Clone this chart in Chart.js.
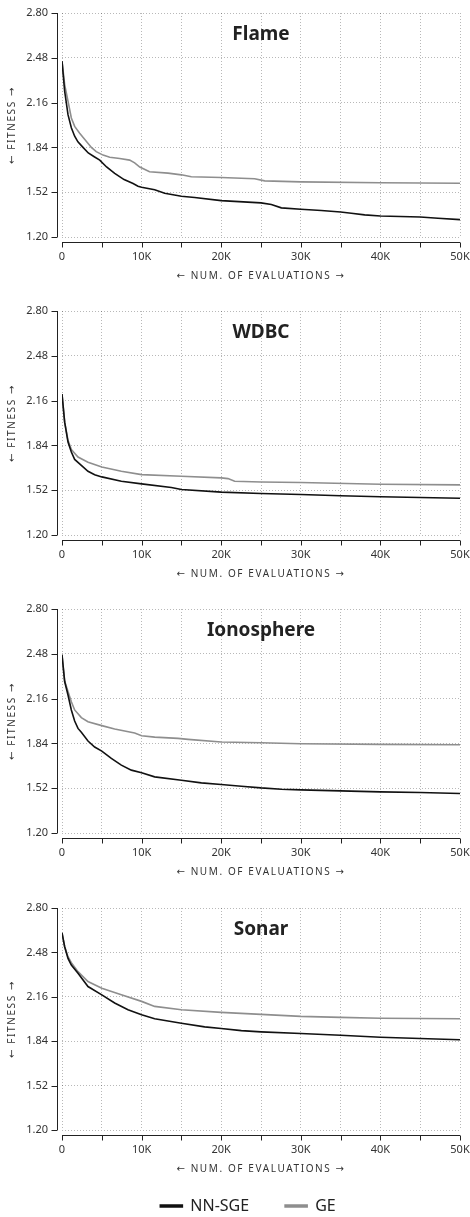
<!DOCTYPE html>
<html><head><meta charset="utf-8">
<script src="https://cdn.jsdelivr.net/npm/chart.js@4.4.1/dist/chart.umd.min.js"></script>
<style>
html,body{margin:0;padding:0;background:#fff;overflow:hidden;}
#wrap{position:relative;width:470px;height:1217px;overflow:hidden;}
canvas{position:absolute;left:0;}
</style></head><body>
<div id="wrap">
<canvas id="c0" width="470" height="298" style="top:0px"></canvas>
<canvas id="c1" width="470" height="298" style="top:298px"></canvas>
<canvas id="c2" width="470" height="298" style="top:596px"></canvas>
<canvas id="c3" width="470" height="329" style="top:895px"></canvas>
</div>
<script>
// ---- labels ----
const chartTitles = ['Flame', 'WDBC', 'Ionosphere', 'Sonar'];
const seriesNames = ['NN-SGE', 'GE'];
const xAxisTitle = '\u2190 NUM. OF EVALUATIONS \u2192';
const yAxisTitle = '\u2190 FITNESS \u2192';
const xTicks = [0, 5000, 10000, 15000, 20000, 25000, 30000, 35000, 40000, 45000, 50000];
const xTickLabels = ['0', '', '10K', '', '20K', '', '30K', '', '40K', '', '50K'];
const yTicks = [1.20, 1.52, 1.84, 2.16, 2.48, 2.80];
const yTickLabels = ['1.20', '1.52', '1.84', '2.16', '2.48', '2.80'];

// ---- Flame ----
const flameNNEvals = [0,335,754,1173,1591,2000,2640,3300,4000,4740,5600,6620,7800,8930,9548,10000,11642,12898,15000,16667,20000,25000,26298,27554,30000,32580,35000,36348,38023,40000,45000,47236,50000];
const flameNN = [2.456,2.241,2.074,1.98,1.92,1.88,1.84,1.80,1.775,1.749,1.70,1.654,1.61,1.582,1.562,1.555,1.537,1.513,1.491,1.482,1.46,1.444,1.432,1.408,1.398,1.389,1.379,1.37,1.358,1.35,1.343,1.334,1.324];
const flameGEEvals = [0,335,754,1173,1591,2220,3690,4300,5160,6000,7250,8500,9129,9770,11000,13317,15000,16248,20000,24204,25461,30000,40000,50000];
const flameGE = [2.456,2.289,2.17,2.05,1.99,1.941,1.84,1.81,1.785,1.77,1.761,1.749,1.73,1.70,1.666,1.656,1.644,1.63,1.625,1.616,1.601,1.594,1.587,1.584];

// ---- WDBC ----
const wdbcNNEvals = [0,335,754,1173,1591,2429,3266,4104,5000,7454,10000,13735,15000,20000,25000,30000,35000,40000,45000,50000];
const wdbcNN = [2.207,2.006,1.864,1.793,1.74,1.698,1.655,1.631,1.615,1.584,1.565,1.539,1.525,1.506,1.496,1.489,1.48,1.473,1.468,1.463];
const wdbcGEEvals = [0,335,754,1173,2010,3266,5000,7454,10000,15000,20000,20854,21692,25000,30000,40000,50000];
const wdbcGE = [2.207,2.006,1.876,1.81,1.757,1.72,1.686,1.655,1.631,1.62,1.608,1.603,1.584,1.579,1.575,1.563,1.558];

// ---- Ionosphere ----
const ionoNNEvals = [0,335,754,1173,1591,2010,2429,3266,4104,5000,6198,7454,8710,10000,11642,15000,17504,20000,22529,25000,27554,30000,35000,40000,45000,50000];
const ionoNN = [2.473,2.282,2.186,2.079,2.0,1.947,1.919,1.857,1.814,1.785,1.733,1.685,1.649,1.63,1.601,1.577,1.558,1.546,1.534,1.522,1.513,1.508,1.501,1.494,1.489,1.482];
const ionoGEEvals = [0,335,754,1173,1591,2429,3266,5000,6616,9129,10000,11642,14573,15829,20000,25000,30000,40000,50000];
const ionoGE = [2.47,2.285,2.21,2.138,2.079,2.024,1.995,1.967,1.943,1.914,1.895,1.885,1.876,1.869,1.85,1.845,1.838,1.833,1.83];

// ---- Sonar ----
const sonarNNEvals = [0,335,754,1173,2010,3266,5000,6616,8291,10000,11642,15000,17923,20000,22529,25000,30000,35000,40000,45000,50000];
const sonarNN = [2.621,2.521,2.437,2.389,2.33,2.234,2.174,2.115,2.067,2.031,2.002,1.969,1.943,1.931,1.916,1.907,1.895,1.883,1.869,1.859,1.85];
const sonarGEEvals = [0,335,754,1173,2010,3266,5000,7454,10000,11642,15000,20000,25000,30000,35000,40000,50000];
const sonarGE = [2.621,2.521,2.449,2.406,2.341,2.27,2.222,2.174,2.127,2.091,2.067,2.048,2.033,2.019,2.012,2.005,2.002];

const FONT = "'Noto Sans', 'DejaVu Sans', sans-serif";
const NN_COLOR = '#111111';
const GE_COLOR = '#8e8e8e';

const decoPlugin = {
  id: 'deco',
  afterLayout(chart, args, opts) {
    const lg = chart.legend;
    if (lg && lg.options.display && opts.legendShift) {
      lg.left += opts.legendShift;
      lg.right += opts.legendShift;
    }
  },
  afterDraw(chart, args, opts) {
    const {ctx, chartArea: a, scales: {x, y}} = chart;
    ctx.save();
    ctx.strokeStyle = '#222';
    ctx.lineWidth = 1;
    ctx.beginPath();
    const yx = Math.round(a.left - 5) + 0.5;
    ctx.moveTo(yx, y.getPixelForValue(yTicks[yTicks.length - 1]));
    ctx.lineTo(yx, y.getPixelForValue(yTicks[0]));
    yTicks.forEach(v => {
      const py = Math.round(y.getPixelForValue(v)) + 0.5;
      ctx.moveTo(yx - 6, py); ctx.lineTo(yx, py);
    });
    const xy = Math.round(a.bottom + 5) + 0.5;
    ctx.moveTo(x.getPixelForValue(xTicks[0]), xy);
    ctx.lineTo(x.getPixelForValue(xTicks[xTicks.length - 1]), xy);
    xTicks.forEach(v => {
      const px = Math.round(x.getPixelForValue(v)) + 0.5;
      ctx.moveTo(px, xy); ctx.lineTo(px, xy + 5);
    });
    ctx.stroke();

    // chart title
    ctx.fillStyle = '#222';
    ctx.font = "bold 19px " + FONT;
    ctx.textAlign = 'center';
    ctx.textBaseline = 'alphabetic';
    ctx.fillText(opts.title, (a.left + a.right) / 2, a.top + 27);

    // axis titles
    ctx.fillStyle = '#333';
    ctx.font = "10px " + FONT;
    if ('letterSpacing' in ctx) ctx.letterSpacing = '1.6px';
    ctx.textBaseline = 'middle';
    ctx.fillText(xAxisTitle, (a.left + a.right) / 2, a.bottom + 39);
    ctx.translate(12, (a.top + a.bottom) / 2);
    ctx.rotate(-Math.PI / 2);
    ctx.fillText(yAxisTitle, 0, 0);
    ctx.restore();
  }
};

function makeChart(id, title, nnX, nnY, geX, geY, isLast) {
  const pts = (xs, ys) => xs.map((v, i) => ({x: v, y: ys[i]}));
  return new Chart(document.getElementById(id), {
    type: 'line',
    data: {
      datasets: [
        {label: seriesNames[0], data: pts(nnX, nnY), borderColor: NN_COLOR, backgroundColor: NN_COLOR, borderWidth: 1.6, pointRadius: 0, tension: 0},
        {label: seriesNames[1], data: pts(geX, geY), borderColor: GE_COLOR, backgroundColor: GE_COLOR, borderWidth: 1.6, pointRadius: 0, tension: 0}
      ]
    },
    options: {
      responsive: false,
      animation: false,
      events: [],
      layout: {padding: {top: 13, right: 10, left: 0, bottom: 0}},
      scales: {
        x: {
          type: 'linear', min: 0, max: 50000,
          afterBuildTicks: s => { s.ticks = xTicks.map(v => ({value: v})); },
          afterFit: s => { s.height = isLast ? 32 : 61; s.paddingLeft = 0; s.paddingRight = 0; },
          ticks: {
            autoSkip: false, maxRotation: 0, padding: 13,
            color: '#333', font: {family: FONT, size: 11},
            callback: (v) => xTickLabels[xTicks.indexOf(v)]
          },
          grid: {color: 'rgba(0,0,0,0.28)', lineWidth: 1, drawTicks: false},
          border: {display: false, dash: [1, 2]}
        },
        y: {
          type: 'linear', min: 1.2, max: 2.8,
          afterBuildTicks: s => { s.ticks = yTicks.map(v => ({value: v})); },
          afterFit: s => { s.width = 62; s.paddingTop = 0; s.paddingBottom = 0; },
          ticks: {
            padding: 14, color: '#333', font: {family: FONT, size: 11},
            callback: (v) => yTickLabels[yTicks.indexOf(v)] ?? v.toFixed(2)
          },
          grid: {color: 'rgba(0,0,0,0.28)', lineWidth: 1, drawTicks: false},
          border: {display: false, dash: [1, 2]}
        }
      },
      plugins: {
        deco: {title: title, legendShift: isLast ? 18 : 0},
        tooltip: {enabled: false},
        legend: {
          display: isLast, position: 'bottom', align: 'center',
          labels: {boxWidth: 22, boxHeight: 2, padding: 36, color: '#222', font: {family: FONT, size: 16}}
        }
      }
    },
    plugins: [decoPlugin]
  });
}

makeChart('c0', chartTitles[0], flameNNEvals, flameNN, flameGEEvals, flameGE, false);
makeChart('c1', chartTitles[1], wdbcNNEvals, wdbcNN, wdbcGEEvals, wdbcGE, false);
makeChart('c2', chartTitles[2], ionoNNEvals, ionoNN, ionoGEEvals, ionoGE, false);
makeChart('c3', chartTitles[3], sonarNNEvals, sonarNN, sonarGEEvals, sonarGE, true);
</script>
</body></html>
